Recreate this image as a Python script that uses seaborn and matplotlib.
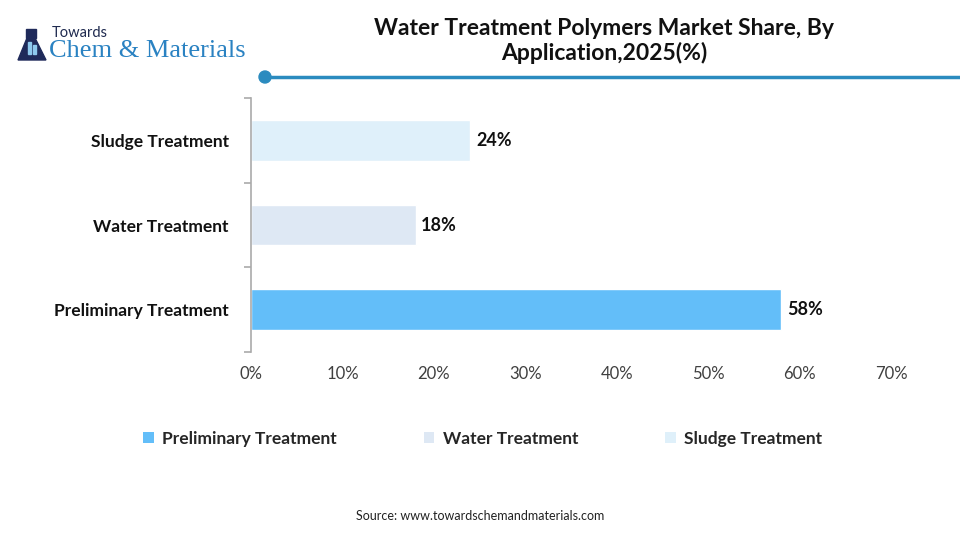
import pandas as pd
import matplotlib
matplotlib.use('Agg')
import matplotlib.pyplot as plt
from matplotlib.patches import Patch, Circle, Polygon, Rectangle
from matplotlib.lines import Line2D
import seaborn as sns

# ── Data ──────────────────────────────────────────────────────
applications = ['Sludge Treatment', 'Water Treatment', 'Preliminary Treatment']
shares = [24, 18, 58]
bar_colors = ['#DFF0FA', '#DEE8F4', '#63BEF9']
legend_order = ['Preliminary Treatment', 'Water Treatment', 'Sludge Treatment']
x_ticks = [0, 10, 20, 30, 40, 50, 60, 70]

title = 'Water Treatment Polymers Market Share, By\nApplication,2025(%)'
source = 'Source: www.towardschemandmaterials.com'

sns.set_style('white')
plt.rcParams['font.family'] = ['Lato', 'DejaVu Sans']

df = pd.DataFrame({'application': applications, 'share': shares})
palette = dict(zip(applications, bar_colors))

fig = plt.figure(figsize=(9.6, 5.4), dpi=100)
ax = fig.add_axes([0.2615, 0.348, 0.6667, 0.4705])

sns.barplot(data=df, y='application', x='share', hue='application',
            order=applications, palette=palette, dodge=False,
            width=0.48, saturation=1, legend=False, ax=ax)

for bar, val in zip(ax.patches, shares):
    ax.text(bar.get_width() + 0.6, bar.get_y() + bar.get_height() / 2,
            f'{val}%', va='center', ha='left', fontsize=13,
            fontweight='bold', color='#111111')

ax.set_xlim(0, 70)
ax.set_ylim(2.5, -0.5)
ax.set_xticks(x_ticks)
ax.set_xticklabels([f'{t}%' for t in x_ticks], fontsize=12, color='#404040')
ax.tick_params(axis='x', length=0, pad=10)
ax.set_yticks([0, 1, 2])
ax.set_yticklabels(applications, fontsize=12.5, fontweight='bold', color='#111111')
ax.tick_params(axis='y', length=0, pad=16)
# category boundary ticks on the y axis
ax.set_yticks([-0.5, 0.5, 1.5, 2.5], minor=True)
ax.tick_params(axis='y', which='minor', left=True, length=5,
               color='#AAAAAA', width=1.2)
ax.set_xlabel('')
ax.set_ylabel('')
for s in ['top', 'right', 'bottom']:
    ax.spines[s].set_visible(False)
ax.spines['left'].set_color('#AAAAAA')
ax.spines['left'].set_linewidth(1.2)

# ── Title + header line ───────────────────────────────────────
fig.text(0.629, 0.924, title, ha='center', va='center', fontsize=16.5,
         fontweight='bold', color='#111111', linespacing=1.15)
fig.add_artist(Line2D([0.276, 1.0], [0.857, 0.857], color='#2B8BBF',
                      lw=2.5, transform=fig.transFigure))
fig.add_artist(Circle((265, 540 - 77), 6, color='#2B8BBF',
                      transform=None))

# ── Logo ──────────────────────────────────────────────────────
fig.text(0.054, 0.939, 'Towards', fontsize=10.5, color='#1F2A4F',
         ha='left', va='center')
fig.text(0.051, 0.906, 'Chem & Materials', fontsize=19, color='#2A82C2',
         family='Liberation Serif', ha='left', va='center')
flask = Polygon([(27, 540 - 38), (35, 540 - 38), (46, 540 - 60),
                 (18, 540 - 60)], closed=True, color='#1F2A5A',
                transform=None)
fig.add_artist(flask)
fig.add_artist(Rectangle((26, 540 - 38), 10, 9, color='#1F2A5A',
                         transform=None))
fig.add_artist(Rectangle((28, 540 - 54), 3, 12, color='#8EC9EE',
                         transform=None))
fig.add_artist(Rectangle((33, 540 - 54), 3, 9, color='#8EC9EE',
                         transform=None))

# ── Legend ────────────────────────────────────────────────────
handles = [Patch(facecolor=palette[a], edgecolor='none') for a in legend_order]
fig.legend(handles, legend_order, loc='center', bbox_to_anchor=(0.503, 0.187),
           ncol=3, frameon=False, handlelength=0.6, handleheight=0.6,
           handletextpad=0.5, columnspacing=5.0,
           prop={'weight': 'bold', 'size': 12.5})

fig.text(0.5, 0.045, source, ha='center', va='center', fontsize=9,
         color='#222222')

plt.savefig('out.png', dpi=100)
plt.close()
